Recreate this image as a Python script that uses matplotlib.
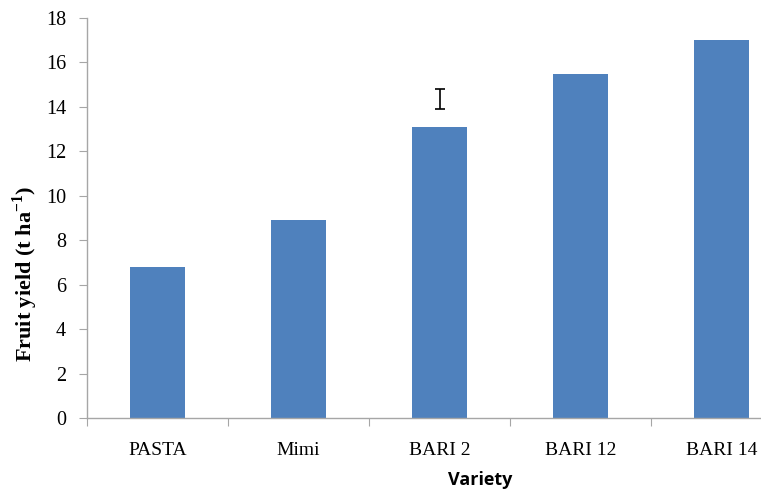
import matplotlib
matplotlib.use('Agg')
import matplotlib.pyplot as plt

varieties = ['PASTA', 'Mimi', 'BARI 2', 'BARI 12', 'BARI 14']
fruit_yield = [6.8, 8.9, 13.1, 15.5, 17.0]

# LSD bar drawn above BARI 2
lsd_position = 2
lsd_center = 14.35
lsd_half = 0.45

bar_color = '#4F81BD'
axis_color = '#A6A6A6'
serif = ['Liberation Serif', 'DejaVu Serif']

plt.rcParams['mathtext.fontset'] = 'custom'
plt.rcParams['mathtext.rm'] = 'Liberation Serif'
plt.rcParams['mathtext.bf'] = 'Liberation Serif:bold'

fig = plt.figure(figsize=(7.61, 4.91), dpi=100)
# axes run past the right edge so the last category is partly cut off
ax = fig.add_axes([87 / 761, 73 / 491, 705 / 761, 400 / 491])

x = list(range(len(varieties)))
ax.bar(x, fruit_yield, width=0.39, color=bar_color, zorder=2)
ax.errorbar([lsd_position], [lsd_center], yerr=[lsd_half], fmt='none',
            ecolor='black', elinewidth=1.2, capsize=3.5, capthick=1.2)

ax.set_xlim(-0.5, 4.5)
ax.set_ylim(0, 18)
ax.set_yticks(range(0, 19, 2))
ax.set_yticklabels([str(v) for v in range(0, 19, 2)], family=serif, fontsize=14.5)

ax.set_xticks([i - 0.5 for i in range(6)])
ax.set_xticklabels([])
ax.set_xticks(x, minor=True)
ax.set_xticklabels(varieties, minor=True, family=serif, fontsize=14)
ax.tick_params(axis='x', which='minor', length=0, pad=17)
ax.tick_params(axis='x', which='major', length=6, color=axis_color, direction='out')
ax.tick_params(axis='y', length=6, color=axis_color, direction='out', pad=9)

for side in ('top', 'right'):
    ax.spines[side].set_visible(False)
for side in ('left', 'bottom'):
    ax.spines[side].set_color(axis_color)
    ax.spines[side].set_linewidth(1.0)

ax.set_ylabel(r'Fruit yield (t ha$^{\mathbf{-1}}$)', family=serif, fontsize=16,
              fontweight='bold')
ax.yaxis.set_label_coords(-47 / 705, 0.36)
ax.set_xlabel('Variety', family=['Open Sans', 'DejaVu Sans'], fontsize=13,
              fontweight='bold')
ax.xaxis.set_label_coords((480 - 87) / 705, -53 / 400)

fig.savefig('out.png', dpi=100)
